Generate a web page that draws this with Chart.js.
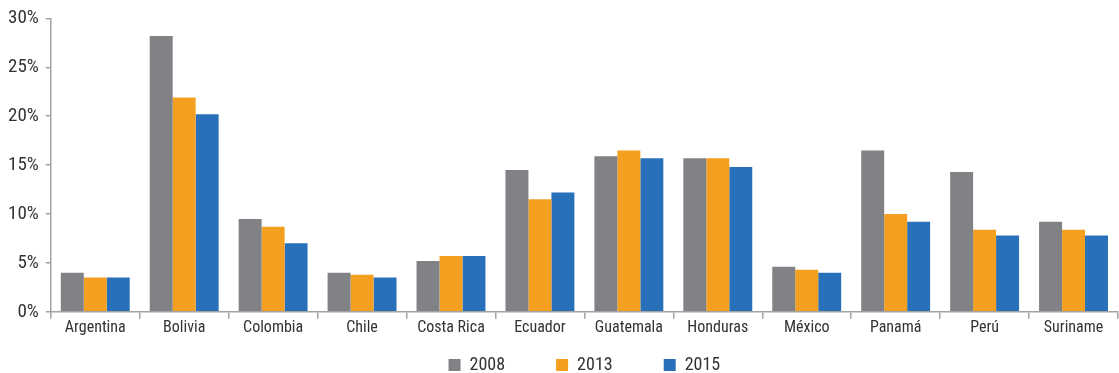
<!DOCTYPE html>
<html>
<head>
<meta charset="utf-8">
<script src="https://cdn.jsdelivr.net/npm/chart.js@4"></script>
<style>
  html, body { margin: 0; padding: 0; background: #fff; }
  #wrap { width: 1119px; height: 373px; position: relative; }
</style>
</head>
<body>
<div id="wrap"><canvas id="chart"></canvas></div>
<script>
const countries = ['Argentina', 'Bolivia', 'Colombia', 'Chile', 'Costa Rica', 'Ecuador',
    'Guatemala', 'Honduras', 'México', 'Panamá', 'Perú', 'Suriname'];
const years = ['2008', '2013', '2015'];
const values2008 = [4.0, 28.2, 9.5, 4.0, 5.2, 14.5, 15.9, 15.7, 4.6, 16.5, 14.3, 9.2];
const values2013 = [3.5, 21.9, 8.7, 3.8, 5.7, 11.5, 16.5, 15.7, 4.3, 10.0, 8.4, 8.4];
const values2015 = [3.5, 20.2, 7.0, 3.5, 5.7, 12.2, 15.7, 14.8, 4.0, 9.2, 7.8, 7.8];
const yTicks = [0, 5, 10, 15, 20, 25, 30];

const colors = ['#818286', '#f49f20', '#2870b9'];
const fontFamily = "'Roboto Condensed', 'Liberation Sans', sans-serif";
const textColor = '#333333';
const axisColor = '#a3a3a3';

// spaces pad the first legend entries so the items sit further apart
const legendGap = '        ';
const legendHeight = 35;

// keep the legend box short so its top padding only pushes the items down
const legendFitPlugin = {
    id: 'legendFit',
    afterInit(chart) {
        const legend = chart.legend;
        if (!legend) return;
        const fit = legend.fit;
        legend.fit = function () {
            fit.call(this);
            this.height = legendHeight;
        };
    }
};

new Chart(document.getElementById('chart'), {
    type: 'bar',
    plugins: [legendFitPlugin],
    data: {
        labels: countries,
        datasets: [values2008, values2013, values2015].map((vals, i) => ({
            label: years[i],
            data: vals,
            backgroundColor: colors[i],
            borderWidth: 0,
            barPercentage: 1.0,
            categoryPercentage: 0.775
        }))
    },
    options: {
        responsive: true,
        maintainAspectRatio: false,
        animation: false,
        layout: { padding: { top: 8, right: 1, left: 1, bottom: 0 } },
        plugins: {
            tooltip: { enabled: false },
            legend: {
                position: 'bottom',
                fullSize: false,
                labels: {
                    boxWidth: 12,
                    boxHeight: 12,
                    padding: 18,
                    color: textColor,
                    font: { family: fontFamily, size: 18 },
                    generateLabels: chart => {
                        const items = Chart.defaults.plugins.legend.labels.generateLabels(chart);
                        items.forEach((it, i) => {
                            if (i < items.length - 1) it.text += legendGap;
                        });
                        return items;
                    }
                }
            }
        },
        scales: {
            x: {
                grid: {
                    display: true,
                    drawOnChartArea: false,
                    color: axisColor,
                    lineWidth: 1.5,
                    tickLength: 7,
                    offset: true
                },
                border: { color: axisColor, width: 1.5 },
                ticks: {
                    color: textColor,
                    padding: 0,
                    autoSkip: false,
                    maxRotation: 0,
                    font: { family: fontFamily, size: 16 }
                }
            },
            y: {
                min: 0,
                max: 30,
                afterBuildTicks: axis => { axis.ticks = yTicks.map(v => ({ value: v })); },
                grid: {
                    display: true,
                    drawOnChartArea: false,
                    color: axisColor,
                    lineWidth: 1.5,
                    tickLength: 5
                },
                border: { color: axisColor, width: 1.5 },
                ticks: {
                    color: textColor,
                    padding: 7,
                    callback: v => v + '%',
                    font: { family: fontFamily, size: 19 }
                }
            }
        }
    }
});
</script>
</body>
</html>
